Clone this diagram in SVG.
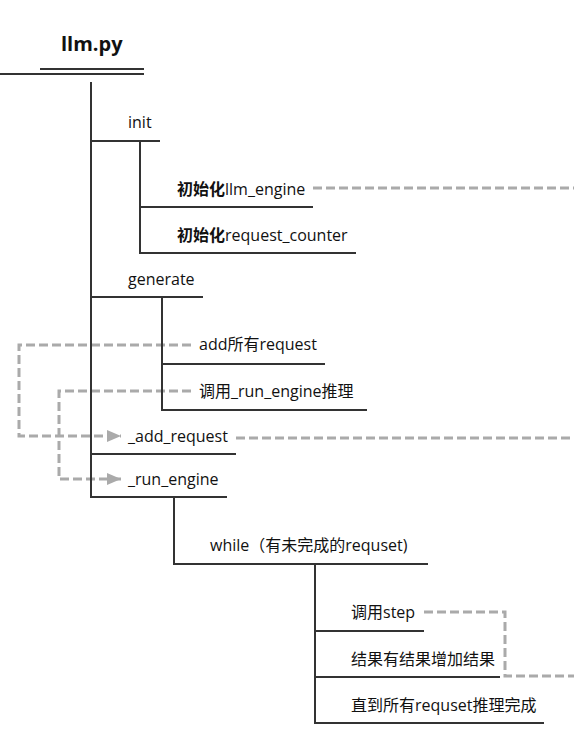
<svg xmlns="http://www.w3.org/2000/svg" width="574" height="751" viewBox="0 0 574 751">
<style>
.t{font-family:"Open Sans","Noto Sans","Noto Sans CJK SC",sans-serif;font-size:16px;fill:#111}
.b{font-weight:bold}
.ln{stroke:#333;stroke-width:2;fill:none}
.d{stroke:#aaa;stroke-width:3;fill:none;stroke-dasharray:9 4}
</style>
<defs>
<marker id="ar" viewBox="0 0 14 12" refX="14" refY="6" markerWidth="14" markerHeight="12" markerUnits="userSpaceOnUse" orient="auto">
<path d="M0,0 L14,6 L0,12 Z" fill="#aaa"/>
</marker>
</defs>
<rect width="574" height="751" fill="#fff"/>
<g id="connectors">
<path class="d" d="M313,188 H574"/>
<path class="d" d="M191,345 H19 V436 H121" marker-end="url(#ar)"/>
<path class="d" d="M191,391 H59 V479 H121" marker-end="url(#ar)"/>
<path class="d" d="M236,438 H574"/>
<path class="d" d="M424,612 H505 V676 H574"/>
</g>
<g id="root">
<text class="t b" x="61" y="51" style="font-size:20px">llm.py</text>
<path class="ln" d="M40,69 H144 M0,74 H144"/>
<path class="ln" d="M91,82 V498"/>
</g>
<g id="init">
<text class="t" x="128" y="128">init</text>
<path class="ln" d="M91,141 H160 M140,141 V254"/>
</g>
<g id="init_llm_engine">
<text class="t" x="177" y="195"><tspan class="b">初始化</tspan>llm_engine</text>
<path class="ln" d="M140,207 H313"/>
</g>
<g id="init_request_counter">
<text class="t" x="177" y="241"><tspan class="b">初始化</tspan>request_counter</text>
<path class="ln" d="M140,253 H356"/>
</g>
<g id="generate">
<text class="t" x="128" y="285">generate</text>
<path class="ln" d="M91,297 H203 M162,297 V411"/>
</g>
<g id="add_all">
<text class="t" x="199" y="350">add所有request</text>
<path class="ln" d="M162,364 H325"/>
</g>
<g id="call_run_engine">
<text class="t" x="199" y="397">调用_run_engine推理</text>
<path class="ln" d="M162,410 H367"/>
</g>
<g id="add_request">
<text class="t" x="128" y="442">_add_request</text>
<path class="ln" d="M91,454 H236"/>
</g>
<g id="run_engine">
<text class="t" x="128" y="485">_run_engine</text>
<path class="ln" d="M91,497 H227 M174,497 V565"/>
</g>
<g id="while">
<text class="t" x="210" y="551">while（有未完成的requset)</text>
<path class="ln" d="M174,564 H428 M315,564 V724"/>
</g>
<g id="call_step">
<text class="t" x="351" y="618">调用step</text>
<path class="ln" d="M315,631 H424"/>
</g>
<g id="add_result">
<text class="t" x="351" y="665">结果有结果增加结果</text>
<path class="ln" d="M315,677 H500"/>
</g>
<g id="until_done">
<text class="t" x="351" y="711">直到所有requset推理完成</text>
<path class="ln" d="M315,723 H544"/>
</g>
</svg>
